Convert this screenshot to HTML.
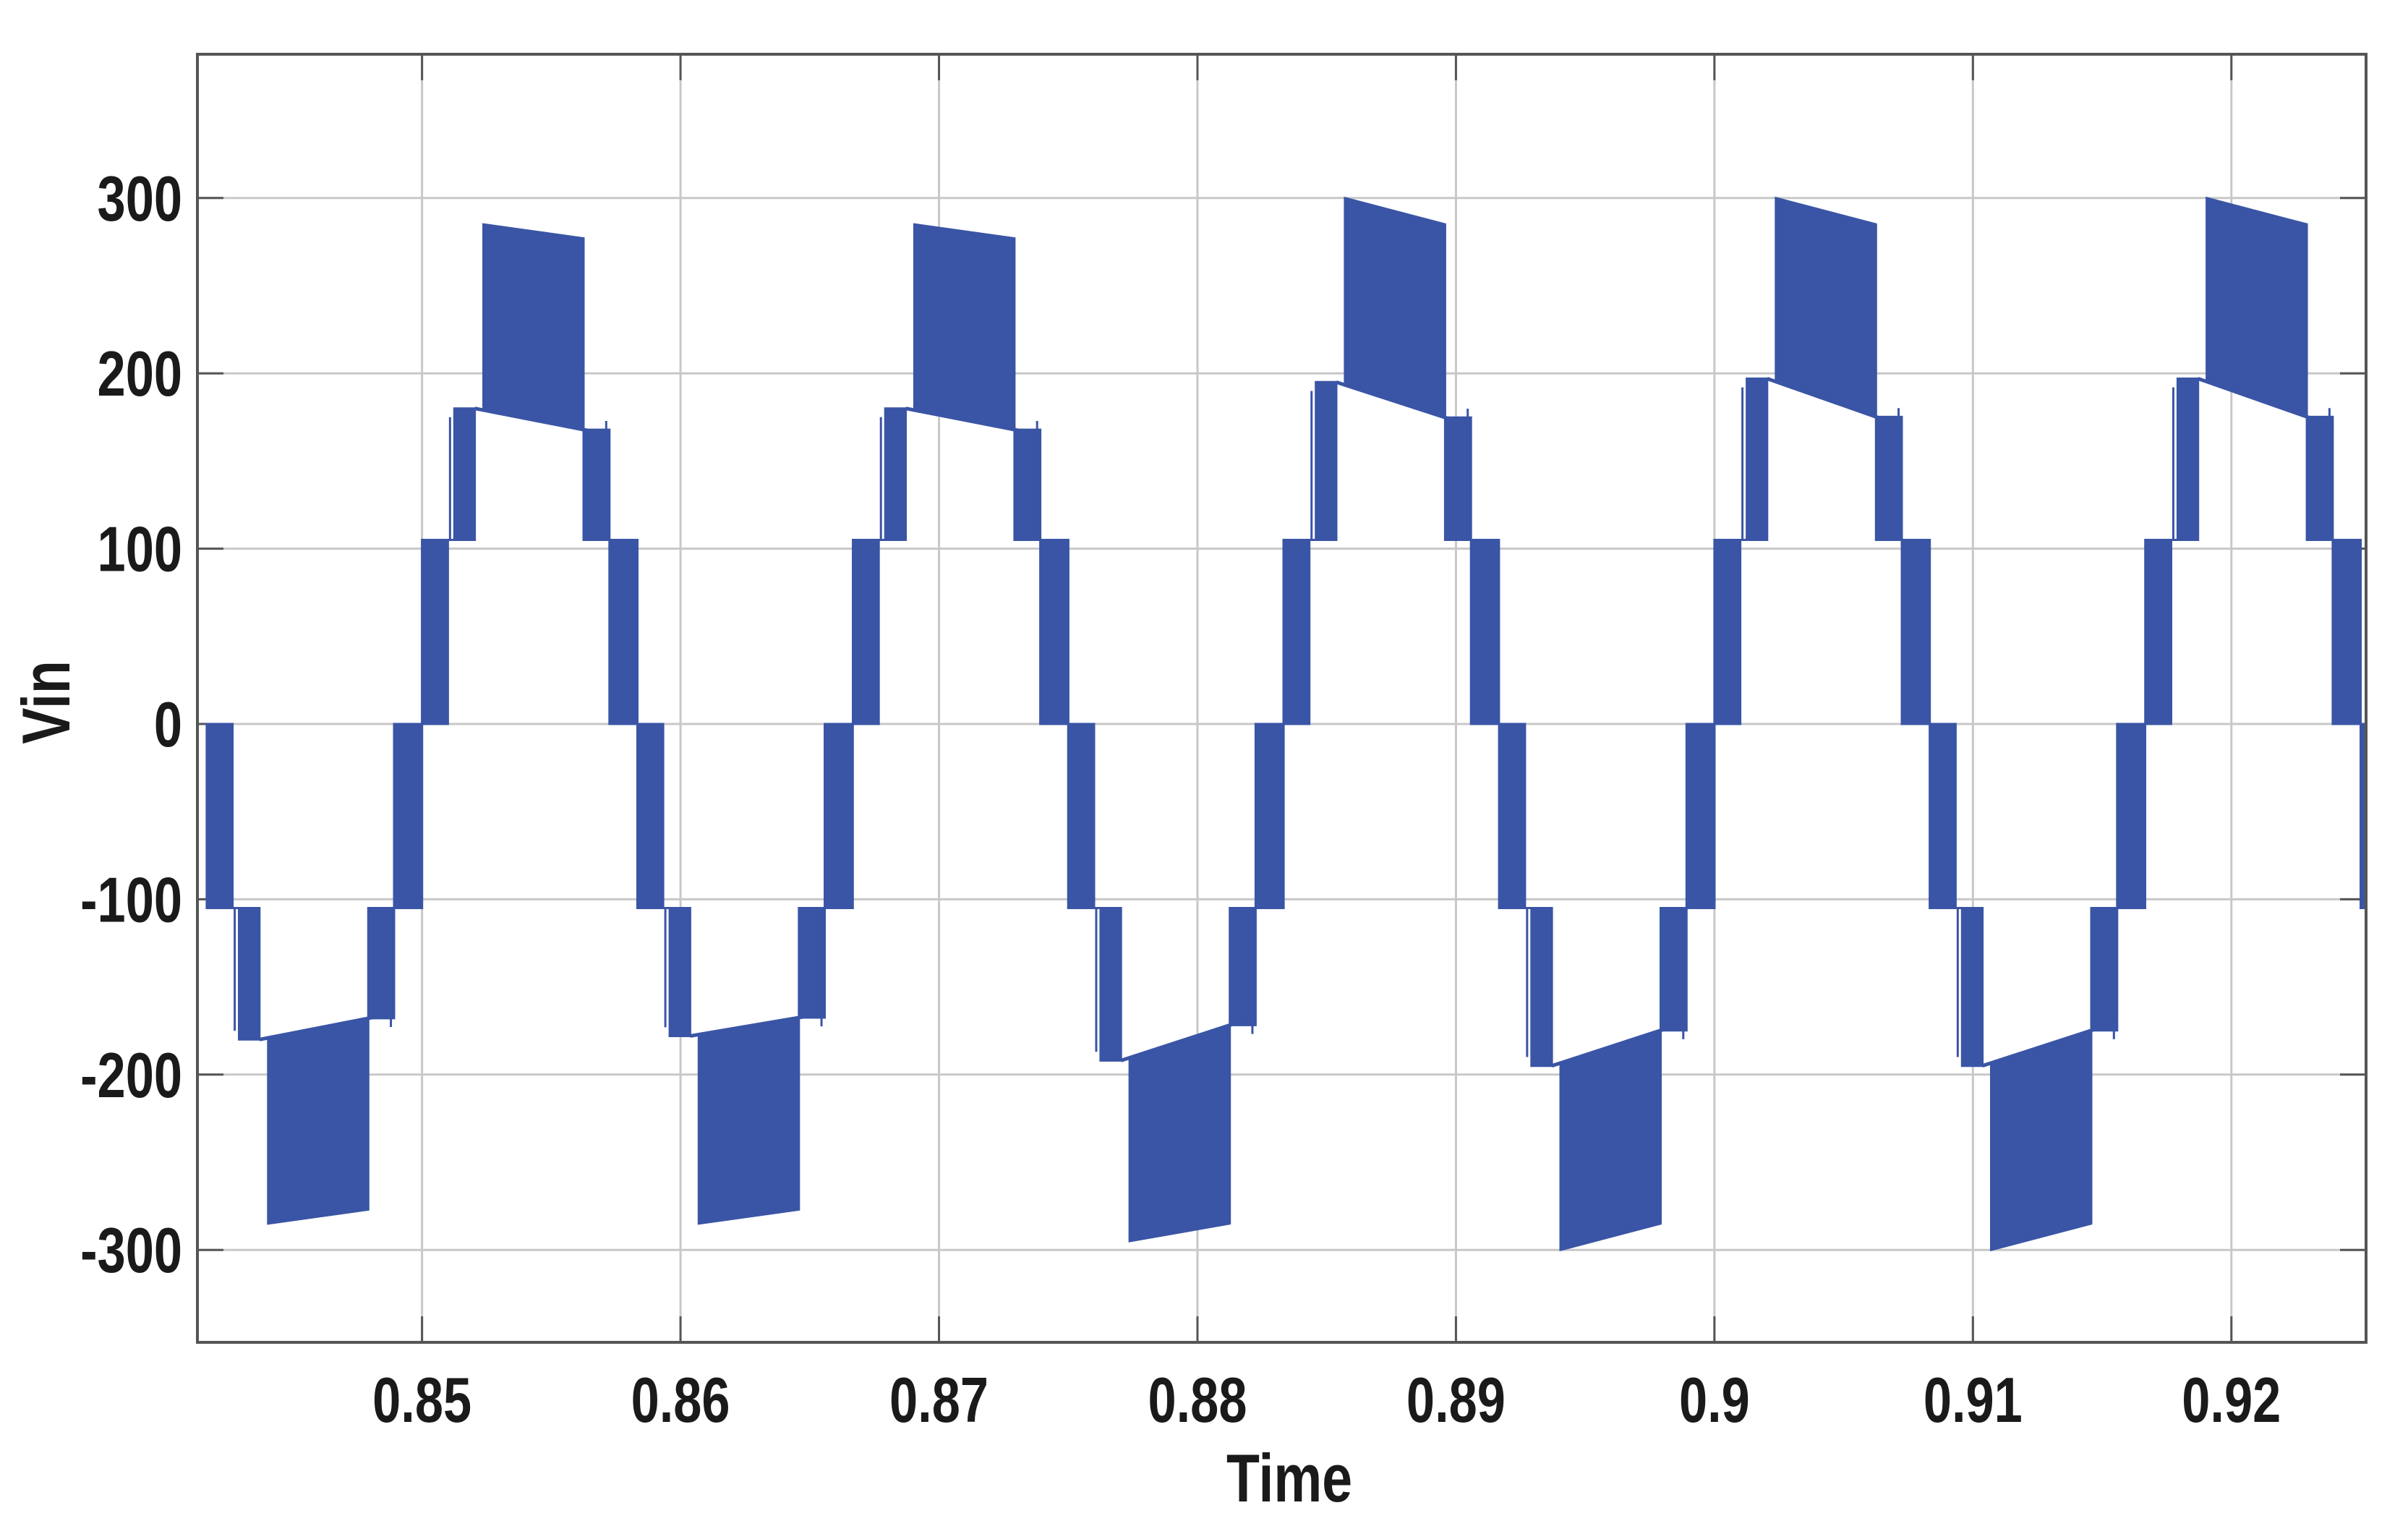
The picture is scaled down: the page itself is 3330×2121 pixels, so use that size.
<!DOCTYPE html>
<html><head><meta charset="utf-8"><style>
html,body{margin:0;padding:0;background:#fff;}
svg{display:block;}
text{font-family:"Liberation Sans Narrow","Liberation Sans",sans-serif;font-weight:bold;fill:#1a1a1a;}
</style></head><body>
<svg id="chart" width="3330" height="2121" viewBox="0 0 3330 2121"></svg>
<script>
const halfStarts = [0.84167, 0.85, 0.85833, 0.86667, 0.875, 0.88333, 0.89167, 0.9, 0.90833, 0.91667, 0.925];
const halfSigns  = [-1, 1, -1, 1, -1, 1, -1, 1, -1, 1, -1];
const peakStart  = [285, 285, 285, 285, 295, 300, 300, 300, 300, 300, 300];
const peakEnd    = [277, 277, 277, 277, 285, 285, 285, 285, 285, 285, 285];
const midStart   = [180, 180, 178, 180, 192, 195, 195, 197, 195, 197, 195];
const midEnd     = [165, 165, 165, 165, 167, 170, 170, 170, 170, 170, 170];
const level1     = [105, 105, 105, 105, 105, 105, 105, 105, 105, 105, 105];
const xTicks = [0.85, 0.86, 0.87, 0.88, 0.89, 0.9, 0.91, 0.92];
const xTickLabels = ["0.85","0.86","0.87","0.88","0.89","0.9","0.91","0.92"];
const yTicks = [-300, -200, -100, 0, 100, 200, 300];
const yTickLabels = ["-300","-200","-100","0","100","200","300"];

const NS = "http://www.w3.org/2000/svg";
const svg = document.getElementById("chart");
const L = 273, R = 3272, T = 75, B = 1856;
const xMin = 0.84131, xMax = 0.92521, yMin = -353, yMax = 382;
const X = t => L + (t - xMin) / (xMax - xMin) * (R - L);
const Y = v => 1001 - v * 2.424;
const HALF = 1 / 120;
const SX = 0.8;
function mk(tag, attrs) { const e = document.createElementNS(NS, tag); for (const k in attrs) e.setAttribute(k, attrs[k]); return e; }

const defs = mk("defs", {}); const cp = mk("clipPath", {id: "plotclip"});
cp.appendChild(mk("rect", {x: L, y: T, width: R - L, height: B - T})); defs.appendChild(cp); svg.appendChild(defs);

xTicks.forEach((t, i) => {
  const g = mk("line", {x1: X(t), x2: X(t), y1: T, y2: B, stroke: "#c8c8c8", "stroke-width": 3});
  
  
  svg.appendChild(g);
  svg.appendChild(mk("line", {x1: X(t), x2: X(t), y1: B, y2: B - 36, stroke: "#555", "stroke-width": 3}));
  svg.appendChild(mk("line", {x1: X(t), x2: X(t), y1: T, y2: T + 36, stroke: "#555", "stroke-width": 3}));
  const tx = mk("text", {x: 0, y: 0, "font-size": 88, "text-anchor": "middle", transform: "translate(" + X(t) + ",1966) scale(" + SX + ",1)"});
  tx.textContent = xTickLabels[i];
  
  
  svg.appendChild(tx);
});
yTicks.forEach((v, i) => {
  const g = mk("line", {x1: L, x2: R, y1: Y(v), y2: Y(v), stroke: "#c8c8c8", "stroke-width": 3});
  
  
  svg.appendChild(g);
  svg.appendChild(mk("line", {x1: L, x2: L + 36, y1: Y(v), y2: Y(v), stroke: "#555", "stroke-width": 3}));
  svg.appendChild(mk("line", {x1: R, x2: R - 36, y1: Y(v), y2: Y(v), stroke: "#555", "stroke-width": 3}));
  const tx = mk("text", {x: 0, y: 0, "font-size": 88, "text-anchor": "end", transform: "translate(252," + (Y(v) + 31) + ") scale(" + SX + ",1)"});
  tx.textContent = yTickLabels[i];
  
  
  svg.appendChild(tx);
});

const wave = mk("g", {"clip-path": "url(#plotclip)", fill: "#3a55a5", stroke: "#3a55a5", "stroke-width": 3});


svg.appendChild(wave);
const fa = 0.12, fb = 0.245, fc = 0.285, fd = 0.75, fe = 0.87;
function poly(pts) { return mk("polygon", {points: pts.map(q => q[0].toFixed(1) + "," + q[1].toFixed(1)).join(" ")}); }
halfStarts.forEach((t0, i) => {
  const s = halfSigns[i], t = f => t0 + f * HALF;
  const l1 = level1[i];
  const mid = f => midStart[i] + (midEnd[i] - midStart[i]) * (f - fb) / (fe - fb);
  const pk = f => peakStart[i] + (peakEnd[i] - peakStart[i]) * (f - fc) / (fd - fc);
  const g = mk("g", {});
  
  
  g.appendChild(poly([[X(t(0)), Y(0)], [X(t(fa)), Y(0)], [X(t(fa)), Y(s * l1)], [X(t(0)), Y(s * l1)]]));
  g.appendChild(poly([[X(t(fe)), Y(0)], [X(t(1)), Y(0)], [X(t(1)), Y(s * l1)], [X(t(fe)), Y(s * l1)]]));
  g.appendChild(poly([[X(t(fa)), Y(s * l1)], [X(t(fb)), Y(s * l1)], [X(t(fb)), Y(s * mid(fb))], [X(t(fa + 0.03)), Y(s * mid(fb))], [X(t(fa + 0.03)), Y(s * l1)]]));
  g.appendChild(poly([[X(t(fd)), Y(s * l1)], [X(t(fe)), Y(s * l1)], [X(t(fe)), Y(s * mid(fd))], [X(t(fd)), Y(s * mid(fd))]]));
  g.appendChild(mk("line", {x1: X(t(fa + 0.01)), x2: X(t(fa + 0.01)), y1: Y(s * l1), y2: Y(s * (mid(fb) - 5))}));
  g.appendChild(mk("line", {x1: X(t(fe - 0.015)), x2: X(t(fe - 0.015)), y1: Y(s * l1), y2: Y(s * (mid(fd) + 5))}));
  g.appendChild(mk("line", {x1: X(t(fb)), x2: X(t(fe)), y1: Y(s * mid(fb)), y2: Y(s * mid(fe)), "stroke-width": 5}));
  g.appendChild(poly([[X(t(fc)), Y(s * mid(fc))], [X(t(fc)), Y(s * pk(fc))], [X(t(fd)), Y(s * pk(fd))], [X(t(fd)), Y(s * mid(fd))]]));
  wave.appendChild(g);
});

const box = mk("rect", {x: L, y: T, width: R - L, height: B - T, fill: "none", stroke: "#555", "stroke-width": 4});


svg.appendChild(box);

const xt = mk("text", {x: 0, y: 0, "font-size": 94, "text-anchor": "middle", transform: "translate(1783,2076) scale(" + SX + ",1)"});
xt.textContent = "Time";


svg.appendChild(xt);
const yt = mk("text", {x: 0, y: 0, "font-size": 94, "text-anchor": "middle", transform: "translate(96,971) rotate(-90) scale(" + SX + ",1)"});
yt.textContent = "Vin";


svg.appendChild(yt);
</script>
</body></html>
